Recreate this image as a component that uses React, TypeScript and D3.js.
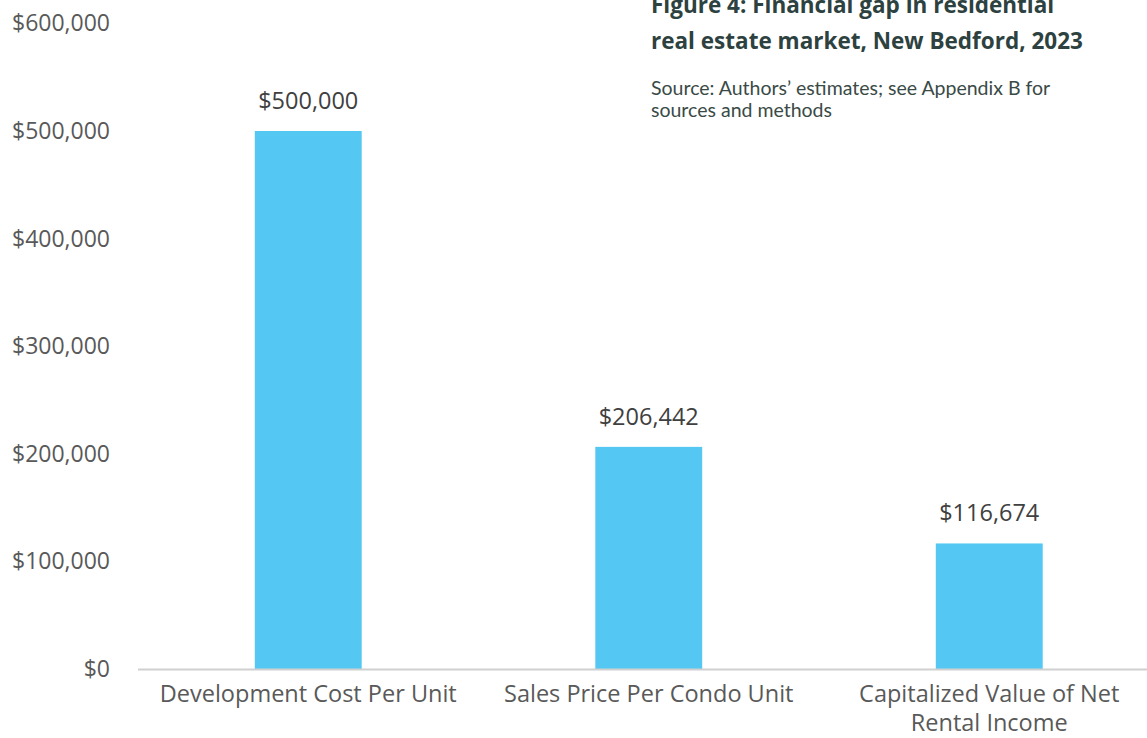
import React from "react";
import * as d3 from "d3";

const categories: string[][] = [
  ["Development Cost Per Unit"],
  ["Sales Price Per Condo Unit"],
  ["Capitalized Value of Net", "Rental Income"],
];
const values: number[] = [500000, 206442, 116674];
const yTicks: number[] = [0, 100000, 200000, 300000, 400000, 500000, 600000];
const titleLines: string[] = [
  "Figure 4: Financial gap in residential",
  "real estate market, New Bedford, 2023",
];
const sourceLines: string[] = [
  "Source: Authors\u2019 estimates; see Appendix B for",
  "sources and methods",
];

const W = 1147;
const H = 738;
const axisFont = "'Open Sans', 'Noto Sans', sans-serif";
const textColor = "#595959";

export default function App() {
  const x = d3
    .scaleBand<number>()
    .domain(d3.range(values.length))
    .range([138, 1159.5])
    .paddingInner(0.686)
    .paddingOuter(0.343);
  const y = d3.scaleLinear().domain([0, 600000]).range([669, 23.4]);
  const fmt = (v: number) => "$" + d3.format(",")(v);

  return (
    <div style={{ position: "absolute", left: 0, top: 0 }}>
      <svg width={W} height={H} style={{ display: "block", background: "#fff" }}>
        {yTicks.map((t) => (
          <text
            key={t}
            x={110}
            y={y(t)}
            dy="0.35em"
            textAnchor="end"
            fontFamily={axisFont}
            fontSize={23}
            fill={textColor}
          >
            {fmt(t)}
          </text>
        ))}
        {values.map((v, i) => (
          <g key={i}>
            <rect
              x={x(i)}
              y={y(v)}
              width={x.bandwidth()}
              height={y(0) - y(v)}
              fill="#54c8f2"
            />
            <text
              x={(x(i) as number) + x.bandwidth() / 2}
              y={y(v) - 22}
              textAnchor="middle"
              fontFamily={axisFont}
              fontSize={23.5}
              fill="#404040"
            >
              {fmt(v)}
            </text>
            {categories[i].map((line, j) => (
              <text
                key={j}
                x={(x(i) as number) + x.bandwidth() / 2}
                y={702 + j * 29}
                textAnchor="middle"
                fontFamily={axisFont}
                fontSize={23.5}
                fill={textColor}
              >
                {line}
              </text>
            ))}
          </g>
        ))}
        <line x1={138} x2={W} y1={669.5} y2={669.5} stroke="#d0d0d0" strokeWidth={2} />
        {titleLines.map((l, i) => (
          <text
            key={i}
            x={651}
            y={13 + i * 35.5}
            fontFamily="'Open Sans', Lato, sans-serif"
            fontWeight={700}
            fontSize={22.5}
            fill="#2d4240"
          >
            {l}
          </text>
        ))}
        {sourceLines.map((l, i) => (
          <text
            key={i}
            x={651}
            y={95 + i * 22}
            fontFamily="Lato, 'Open Sans', sans-serif"
            fontSize={19.5}
            fill="#3a4a46"
          >
            {l}
          </text>
        ))}
      </svg>
    </div>
  );
}
